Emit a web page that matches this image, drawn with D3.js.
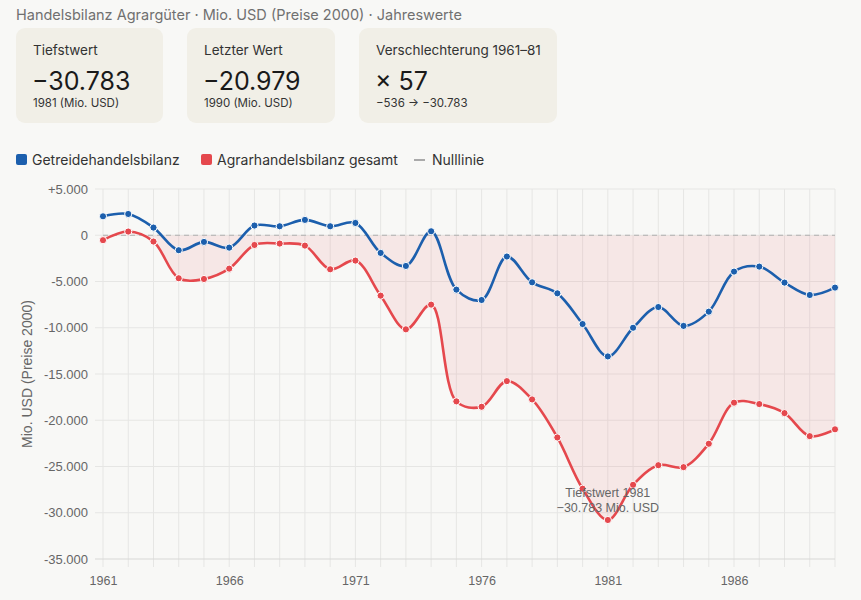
<!DOCTYPE html>
<html>
<head>
<meta charset="utf-8">
<script src="https://cdn.jsdelivr.net/npm/d3@7/dist/d3.min.js"></script>
<style>
  body { margin: 0; background: #f8f8f6; font-family: Inter, "Noto Sans", sans-serif; }
  #chart svg { display: block; }
</style>
</head>
<body>
<div id="chart"></div>
<script>
// Data:
var years = d3.range(1961, 1991);
var grain = [2050, 2300, 830, -1620, -720, -1340, 1050, 970, 1660, 970,
  1330, -1910, -3320, 430, -5880, -7000, -2300, -5090, -6280, -9600,
  -13100, -10000, -7760, -9800, -8260, -3930, -3390, -5120, -6460, -5660];
var agrar = [-536, 400, -680, -4650, -4730, -3610, -1050, -900, -1120, -3680,
  -2740, -6530, -10170, -7500, -17960, -18540, -15770, -17750, -21860, -27400,
  -30783, -26980, -24860, -25070, -22540, -18100, -18250, -19230, -21720, -20979];
var yTicks = [5000, 0, -5000, -10000, -15000, -20000, -25000, -30000, -35000];
var xTickYears = [1961, 1966, 1971, 1976, 1981, 1986];
var cards = [
  { label: "Tiefstwert", value: "\u221230.783", sub: "1981 (Mio. USD)" },
  { label: "Letzter Wert", value: "\u221220.979", sub: "1990 (Mio. USD)" },
  { label: "Verschlechterung 1961\u201381", value: "\u00d7 57", sub: "\u2212536 \u2192 \u221230.783" }
];
var legendItems = [
  { name: "Getreidehandelsbilanz", color: "#1c5fad", type: "box" },
  { name: "Agrarhandelsbilanz gesamt", color: "#e5484d", type: "box" },
  { name: "Nulllinie", color: "#aaaaaa", type: "line" }
];

// Constants:
var W = 861, H = 600;
var margin = { top: 189, right: 26, bottom: 41, left: 103 };
var width = W - margin.left - margin.right,
  height = H - margin.top - margin.bottom;
var blue = "#1c5fad", red = "#e5484d";
var axisFont = '"Liberation Sans", Arial, sans-serif';

var svg = d3.select("#chart").append("svg")
  .attr("width", W)
  .attr("height", H);

// Title
svg.append("text")
  .attr("x", 16).attr("y", 20)
  .attr("fill", "#707070")
  .style("font-size", "14.5px")
  .text("Handelsbilanz Agrargüter · Mio. USD (Preise 2000) · Jahreswerte");

// KPI cards
var cardX = [16, 187, 359], cardW = [147, 148, 198];
var card = svg.selectAll("g.card")
  .data(cards)
  .enter().append("g")
  .attr("class", "card")
  .attr("transform", function(d, i) { return "translate(" + cardX[i] + ",28)"; });
card.append("rect")
  .attr("width", function(d, i) { return cardW[i]; })
  .attr("height", 95)
  .attr("rx", 9)
  .attr("fill", "#f1efe7");
card.append("text")
  .attr("x", 17).attr("y", 27)
  .attr("fill", "#333")
  .style("font-size", "13.5px")
  .text(function(d) { return d.label; });
card.append("text")
  .attr("x", 16).attr("y", 62)
  .attr("fill", "#1a1a1a")
  .style("font-size", "25px")
  .text(function(d) { return d.value; });
card.append("text")
  .attr("x", 17).attr("y", 79)
  .attr("fill", "#333")
  .style("font-size", "11.5px")
  .text(function(d) { return d.sub; });

// Legend
var legendX = [16, 201, 414];
var leg = svg.selectAll("g.legend")
  .data(legendItems)
  .enter().append("g")
  .attr("class", "legend")
  .attr("transform", function(d, i) { return "translate(" + legendX[i] + ",160)"; });
leg.filter(function(d) { return d.type === "box"; })
  .append("rect")
  .attr("x", 0).attr("y", -6)
  .attr("width", 11).attr("height", 11)
  .attr("rx", 2)
  .attr("fill", function(d) { return d.color; });
leg.filter(function(d) { return d.type === "line"; })
  .append("line")
  .attr("x1", 0).attr("x2", 11)
  .attr("y1", 0).attr("y2", 0)
  .attr("stroke", function(d) { return d.color; })
  .attr("stroke-width", 2);
leg.append("text")
  .attr("x", function(d) { return d.type === "box" ? 16 : 18; })
  .attr("y", 5)
  .attr("fill", "#333")
  .style("font-size", "14px")
  .text(function(d) { return d.name; });

// Scales
var x = d3.scaleLinear().domain([1961, 1990]).range([0, width]);
var y = d3.scaleLinear().domain([-35000, 5000]).range([height, 0]);

var g = svg.append("g")
  .attr("transform", "translate(" + margin.left + "," + margin.top + ")");

// Grid
g.append("g").selectAll("line")
  .data(years)
  .enter().append("line")
  .attr("x1", function(d) { return x(d); })
  .attr("x2", function(d) { return x(d); })
  .attr("y1", 0).attr("y2", height + 8)
  .attr("stroke", "#e6e6e4");
g.append("g").selectAll("line")
  .data(yTicks)
  .enter().append("line")
  .attr("x1", -8).attr("x2", width)
  .attr("y1", function(d) { return y(d); })
  .attr("y2", function(d) { return y(d); })
  .attr("stroke", function(d) { return d === -35000 ? "#d8d8d6" : "#e6e6e4"; });

// Axes (labels only)
var fmt = function(d) {
  var s = d3.format(",")(Math.abs(d)).replace(/,/g, ".");
  return d > 0 ? "+" + s : d < 0 ? "-" + s : "0";
};
var yAxis = g.append("g")
  .attr("transform", "translate(-12,0)")
  .call(d3.axisLeft(y).tickValues(yTicks).tickFormat(fmt).tickSize(0));
var xAxis = g.append("g")
  .attr("transform", "translate(0," + (height + 14) + ")")
  .call(d3.axisBottom(x).tickValues(xTickYears).tickFormat(d3.format("d")).tickSize(0));
[yAxis, xAxis].forEach(function(a) {
  a.select(".domain").remove();
  a.selectAll("text")
    .attr("fill", "#666")
    .style("font-family", axisFont)
    .style("font-size", "13px");
});
xAxis.selectAll("text").attr("dy", "0.7em").style("font-size", "12.5px");

svg.append("text")
  .attr("transform", "translate(32," + (margin.top + height / 2) + ") rotate(-90)")
  .attr("text-anchor", "middle")
  .attr("fill", "#666")
  .style("font-family", axisFont)
  .style("font-size", "14px")
  .text("Mio. USD (Preise 2000)");

// Fill between zero and the agrarian balance (only below zero)
var curve = d3.curveCatmullRom.alpha(0.5);
svg.append("defs").append("clipPath").attr("id", "below")
  .append("rect")
  .attr("x", 0).attr("y", y(0))
  .attr("width", width).attr("height", height - y(0));
g.append("path")
  .datum(years)
  .attr("clip-path", "url(#below)")
  .attr("fill", "rgba(229,72,77,0.09)")
  .attr("d", d3.area()
    .x(function(d) { return x(d); })
    .y0(y(0))
    .y1(function(d, i) { return y(agrar[i]); })
    .curve(curve));

// Zero line
g.append("line")
  .attr("x1", 0).attr("x2", width)
  .attr("y1", y(0)).attr("y2", y(0))
  .attr("stroke", "#b0b0b0")
  .attr("stroke-width", 1.2)
  .attr("stroke-dasharray", "5,4");

// Lines and points
[{ values: grain, color: blue }, { values: agrar, color: red }].forEach(function(s) {
  g.append("path")
    .datum(years)
    .attr("fill", "none")
    .attr("stroke", s.color)
    .attr("stroke-width", 2.6)
    .attr("d", d3.line()
      .x(function(d) { return x(d); })
      .y(function(d, i) { return y(s.values[i]); })
      .curve(curve));
  g.append("g").selectAll("circle")
    .data(years)
    .enter().append("circle")
    .attr("cx", function(d) { return x(d); })
    .attr("cy", function(d, i) { return y(s.values[i]); })
    .attr("r", 3.6)
    .attr("fill", s.color)
    .attr("stroke", "#fff")
    .attr("stroke-width", 1);
});

// Annotation at the minimum
var minI = d3.minIndex(agrar);
var ann = g.append("text")
  .attr("text-anchor", "middle")
  .attr("fill", "#666")
  .style("font-family", axisFont)
  .style("font-size", "12.5px");
ann.append("tspan")
  .attr("x", x(years[minI])).attr("y", y(agrar[minI]) - 23)
  .text("Tiefstwert " + years[minI]);
ann.append("tspan")
  .attr("x", x(years[minI])).attr("y", y(agrar[minI]) - 8)
  .text("\u221230.783 Mio. USD");
</script>
</body>
</html>
